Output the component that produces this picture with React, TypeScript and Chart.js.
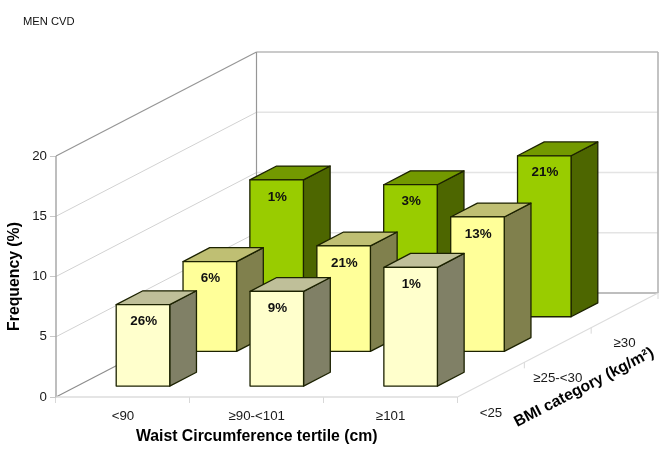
import React, { useEffect, useRef } from "react";
import { Chart, registerables } from "chart.js";

Chart.register(...registerables);

const waistCategories = ["<90", "≥90-<101", "≥101"];
const bmiCategories = ["<25", "≥25-<30", "≥30"];

const frequencyBmiLow = [6.8, 7.9, 9.9];
const frequencyBmiMid = [7.5, 8.8, 11.2];
const frequencyBmiHigh = [11.4, 11.0, 13.4];

const percentBmiLow = ["26%", "9%", "1%"];
const percentBmiMid = ["6%", "21%", "13%"];
const percentBmiHigh = ["1%", "3%", "21%"];

const faceBmiLow = { front: "#FFFFCC", top: "#BFBF99", side: "#808066" };
const faceBmiMid = { front: "#FFFF99", top: "#BFBF73", side: "#80804D" };
const faceBmiHigh = { front: "#99CC00", top: "#739900", side: "#4D6600" };

const FONT = '"Liberation Sans", Arial, sans-serif';
const DEPTH_X = 200.5;
const DEPTH_Y = -104;
const BAR_FRACTION = 0.4;
const EDGE = "#1c2200";

function line(ctx: CanvasRenderingContext2D, x0: number, y0: number, x1: number, y1: number, color: string, width: number) {
  ctx.strokeStyle = color;
  ctx.lineWidth = width;
  ctx.beginPath();
  ctx.moveTo(x0, y0);
  ctx.lineTo(x1, y1);
  ctx.stroke();
}

function face(ctx: CanvasRenderingContext2D, pts: number[][], fill: string) {
  ctx.fillStyle = fill;
  ctx.strokeStyle = EDGE;
  ctx.lineWidth = 1.3;
  ctx.lineJoin = "round";
  ctx.beginPath();
  pts.forEach((p, i) => (i ? ctx.lineTo(p[0], p[1]) : ctx.moveTo(p[0], p[1])));
  ctx.closePath();
  ctx.fill();
  ctx.stroke();
}

const scene3d = {
  id: "scene3d",
  beforeDatasetsDraw(chart: any) {
    const ctx: CanvasRenderingContext2D = chart.ctx;
    const { x, y } = chart.scales;
    const left = x.left;
    const right = x.right;
    const base = y.getPixelForValue(0);
    const top = y.getPixelForValue(20);
    ctx.save();
    // side-wall and back-wall gridlines
    for (const v of [5, 10, 15]) {
      const py = y.getPixelForValue(v);
      line(ctx, left, py, left + DEPTH_X, py + DEPTH_Y, "#d2d2d2", 1);
      line(ctx, left + DEPTH_X, py + DEPTH_Y, right + DEPTH_X, py + DEPTH_Y, "#e4e4e4", 1.3);
    }
    // wall outlines
    line(ctx, left, top, left + DEPTH_X, top + DEPTH_Y, "#969696", 1.2);
    line(ctx, left + DEPTH_X, top + DEPTH_Y, right + DEPTH_X, top + DEPTH_Y, "#969696", 1.2);
    line(ctx, left + DEPTH_X, top + DEPTH_Y, left + DEPTH_X, base + DEPTH_Y, "#969696", 1.2);
    line(ctx, right + DEPTH_X, top + DEPTH_Y, right + DEPTH_X, base + DEPTH_Y, "#b4b4b4", 1.6);
    line(ctx, left + DEPTH_X, base + DEPTH_Y, right + DEPTH_X, base + DEPTH_Y, "#a8a8a8", 1.4);
    line(ctx, left, top, left, base, "#a8a8a8", 1.5);
    // floor outlines
    line(ctx, left, base, left + DEPTH_X, base + DEPTH_Y, "#8c8c8c", 1.1);
    line(ctx, left, base, right, base, "#dcdcdc", 1.3);
    line(ctx, right, base, right + DEPTH_X, base + DEPTH_Y, "#dcdcdc", 1.1);
    // depth axis ticks and labels
    ctx.font = `13.3px ${FONT}`;
    ctx.fillStyle = "#1a1a1a";
    ctx.textAlign = "center";
    ctx.textBaseline = "middle";
    bmiCategories.forEach((label, i) => {
      const f = (i + 1) / bmiCategories.length;
      const px = right + DEPTH_X * f;
      const py = base + DEPTH_Y * f;
      line(ctx, px, py, px, py + 6, "#d8d8d8", 1);
      const c = (i + 0.5) / bmiCategories.length;
      ctx.fillText(label, right + DEPTH_X * c, base + DEPTH_Y * c + 33.3);
    });
    line(ctx, right, base, right, base + 6, "#d8d8d8", 1);
    // depth axis title
    ctx.save();
    ctx.translate(584, 387.5);
    ctx.rotate(Math.atan2(DEPTH_Y, DEPTH_X));
    ctx.font = `bold 15.7px ${FONT}`;
    ctx.fillStyle = "#000";
    ctx.fillText("BMI category (kg/m²)", 0, 0);
    ctx.restore();
    // corner caption
    ctx.font = `11.2px ${FONT}`;
    ctx.fillStyle = "#111";
    ctx.textAlign = "left";
    ctx.fillText("MEN CVD", 23, 21.5);
    ctx.restore();
  },
  beforeDatasetDraw(chart: any, args: any) {
    const ctx: CanvasRenderingContext2D = chart.ctx;
    const ds = chart.data.datasets[args.index];
    const n = bmiCategories.length;
    const off = (args.index + (1 - BAR_FRACTION) / 2) / n;
    const ox = DEPTH_X * off;
    const oy = DEPTH_Y * off;
    const sx = (DEPTH_X * BAR_FRACTION) / n;
    const sy = (DEPTH_Y * BAR_FRACTION) / n;
    ctx.save();
    args.meta.data.forEach((bar: any, i: number) => {
      const x0 = bar.x - bar.width / 2 + ox;
      const x1 = bar.x + bar.width / 2 + ox;
      const yt = bar.y + oy;
      const yb = bar.base + oy;
      face(ctx, [[x1, yt], [x1 + sx, yt + sy], [x1 + sx, yb + sy], [x1, yb]], ds.faces.side);
      face(ctx, [[x0, yt], [x0 + sx, yt + sy], [x1 + sx, yt + sy], [x1, yt]], ds.faces.top);
      face(ctx, [[x0, yt], [x1, yt], [x1, yb], [x0, yb]], ds.faces.front);
      ctx.font = `bold 13.4px ${FONT}`;
      ctx.fillStyle = "#111";
      ctx.textAlign = "center";
      ctx.textBaseline = "middle";
      ctx.fillText(ds.percents[i], (x0 + x1) / 2 + 0.7, yt + 17);
    });
    ctx.restore();
    return false;
  },
};

export default function App() {
  const ref = useRef<HTMLCanvasElement | null>(null);
  useEffect(() => {
    if (!ref.current) return;
    const chart = new Chart(ref.current, {
      type: "bar",
      plugins: [scene3d as any],
      data: {
        labels: waistCategories,
        datasets: [
          { label: bmiCategories[0], data: frequencyBmiLow, percents: percentBmiLow, faces: faceBmiLow },
          { label: bmiCategories[1], data: frequencyBmiMid, percents: percentBmiMid, faces: faceBmiMid },
          { label: bmiCategories[2], data: frequencyBmiHigh, percents: percentBmiHigh, faces: faceBmiHigh },
        ] as any,
      },
      options: {
        responsive: false,
        animation: false,
        events: [],
        layout: { padding: { left: 0, top: 156, right: 214.5, bottom: 0 } },
        datasets: { bar: { grouped: false, barPercentage: BAR_FRACTION, categoryPercentage: 1 } },
        plugins: { legend: { display: false }, tooltip: { enabled: false }, title: { display: false } },
        scales: {
          x: {
            grid: { drawOnChartArea: false, tickLength: 6, color: "#d8d8d8" },
            border: { display: false },
            ticks: { font: { family: FONT, size: 13.3 }, color: "#1a1a1a", padding: 5, maxRotation: 0 },
            title: {
              display: true,
              text: "Waist Circumference tertile (cm)",
              font: { family: FONT, size: 15.8, weight: "bold" },
              color: "#000",
              padding: { top: 0, bottom: 7.5 },
            },
            afterFit: (s: any) => { s.height = 57; },
          },
          y: {
            min: 0,
            max: 20,
            grid: { drawOnChartArea: false, tickLength: 6, color: "#c8c8c8" },
            border: { display: false },
            ticks: { stepSize: 5, font: { family: FONT, size: 13.3 }, color: "#1a1a1a", padding: 3 },
            title: {
              display: true,
              text: "Frequency (%)",
              font: { family: FONT, size: 15.8, weight: "bold" },
              color: "#000",
              padding: { top: 5.5, bottom: 0 },
            },
            afterFit: (s: any) => { s.width = 56; },
          },
        },
      } as any,
    });
    return () => chart.destroy();
  }, []);
  return (
    <div style={{ position: "fixed", left: 0, top: 0, width: 672, height: 454, background: "#fff" }}>
      <canvas ref={ref} width={672} height={454} style={{ display: "block" }} />
    </div>
  );
}
